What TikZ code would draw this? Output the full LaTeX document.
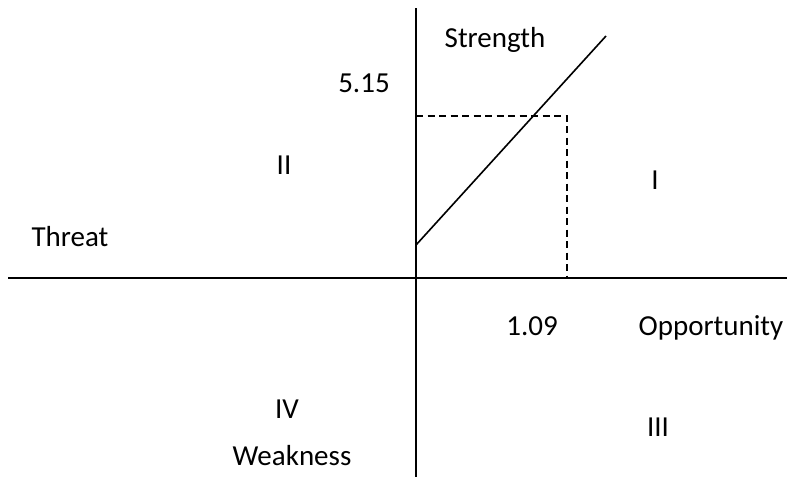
\documentclass[tikz,border=0pt]{standalone}
\usepackage{fontspec}
\setmainfont{Carlito}
\usepackage{tikz}
\pgfdeclarelayer{edgelayer}
\pgfdeclarelayer{nodelayer}
\pgfsetlayers{edgelayer,nodelayer,main}
\tikzstyle{axis}=[draw=black, line width=1.6pt]
\tikzstyle{trendedge}=[draw=black, line width=1.6pt]
\tikzstyle{guideedge}=[draw=black, line width=1.3pt, dash pattern=on 7pt off 4.5pt]
\tikzstyle{tag}=[inner sep=0pt, anchor=base, font=\fontsize{29}{34}\selectfont]

\begin{document}
\begin{tikzpicture}[x=1pt, y=-1pt]
						\useasboundingbox (0, 0) rectangle (787, 477);
						\begin{pgfonlayer}{nodelayer}
							\coordinate (top) at (416, 8);
							\coordinate (bottom) at (416, 477);
							\coordinate (left) at (8, 278);
							\coordinate (right) at (787, 278);
							\coordinate (start) at (416, 245);
							\coordinate (end) at (606, 36);
							\coordinate (sv) at (416, 116);
							\coordinate (corner) at (567, 116);
							\coordinate (ov) at (567, 278);
							\node [style=tag] (strength) at (495, 47) {Strength};
							\node [style=tag] (sval) at (364, 92) {5.15};
							\node [style=tag] (q2) at (284, 174) {II};
							\node [style=tag] (q1) at (655, 189) {I};
							\node [style=tag] (threat) at (70, 246) {Threat};
							\node [style=tag] (oval) at (532, 335) {1.09};
							\node [style=tag] (opportunity) at (711, 335) {Opportunity};
							\node [style=tag] (q4) at (287, 418) {IV};
							\node [style=tag] (q3) at (658, 436) {III};
							\node [style=tag] (weakness) at (292, 465) {Weakness};
						\end{pgfonlayer}
						\begin{pgfonlayer}{edgelayer}
							\draw [style=axis] (top) to (bottom);
							\draw [style=axis] (left) to (right);
							\draw [style=trendedge] (start) to (end);
							\draw [style=guideedge] (sv) to (corner) to (ov);
						\end{pgfonlayer}
					\end{tikzpicture}
\end{document}
